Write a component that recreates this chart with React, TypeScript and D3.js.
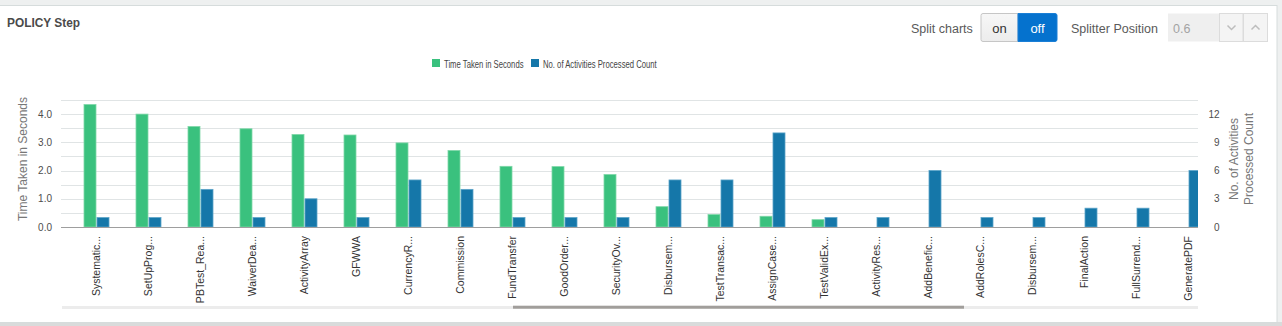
import React from "react";
import * as d3 from "d3";

const categories = [
  "Systematic...", "SetUpProg...", "PBTest_Rea...", "WaiverDea...", "ActivityArray", "GFWWA",
  "CurrencyR...", "Commission", "FundTransfer", "GoodOrder...", "SecurityOv...", "Disbursem...",
  "TestTransac...", "AssignCase...", "TestValidEx...", "ActivityRes...", "AddBenefic...", "AddRolesC...",
  "Disbursem...", "FinalAction", "FullSurrend...", "GeneratePDF",
];
const timeTaken = [4.34, 4.0, 3.56, 3.48, 3.28, 3.26, 2.98, 2.71, 2.15, 2.14, 1.86, 0.72, 0.44, 0.38, 0.26, 0, 0, 0, 0, 0, 0, 0];
const activityCount = [1, 1, 4, 1, 3, 1, 5, 4, 1, 1, 1, 5, 5, 10, 1, 1, 6, 1, 1, 2, 2, 6];
const leftTicks = [0, 1, 2, 3, 4];
const rightTicks = [0, 3, 6, 9, 12];
const seriesNames = ["Time Taken in Seconds", "No. of Activities Processed Count"];
const seriesColors = ["#3ac17e", "#1577a9"];

const W = 1282;
const H = 326;
const plotLeft = 61;
const plotRight = 1198;
const plotTop = 100;
const plotBottom = 227;

export default function App() {
  const idx = categories.map((_, i) => String(i));
  const x = d3.scaleBand<string>().domain(idx).range([70.5, 70.5 + 52 * categories.length]).padding(0);
  const x1 = d3.scaleBand<string>().domain(["a", "b"]).range([13.5, 38.5]).paddingInner(0.077);
  const yL = d3.scaleLinear().domain([0, 4.5]).range([plotBottom, plotTop]);
  const yR = d3.scaleLinear().domain([0, 13.5]).range([plotBottom, plotTop]);
  const grid = d3.range(0, 4.51, 0.5);
  const font = "'Liberation Sans', Arial, sans-serif";

  return (
    <div style={{ position: "absolute", left: 0, top: 0, width: W, height: H }}>
      <svg width={W} height={H} style={{ display: "block", fontFamily: font }}>
        <defs>
          <clipPath id="plotClip">
            <rect x={plotLeft} y={0} width={plotRight - plotLeft} height={plotBottom + 1} />
          </clipPath>
          <linearGradient id="onGrad" x1="0" y1="0" x2="0" y2="1">
            <stop offset="0" stopColor="#f7f7f7" />
            <stop offset="1" stopColor="#ececec" />
          </linearGradient>
        </defs>
        <rect x={0} y={0} width={W} height={H} fill="#eef0f0" />
        <rect x={0} y={322} width={W} height={4} fill="#d9dbdb" />
        <rect x={-1} y={5.5} width={1278} height={317} fill="#ffffff" stroke="#d6dcdc" />

        <text x={7} y={27} fontSize={13} fontWeight="bold" fill="#4a4a4a" textLength={73} lengthAdjust="spacingAndGlyphs">POLICY Step</text>

        {/* controls */}
        <text x={911} y={33} fontSize={12.5} fill="#5a5a5a">Split charts</text>
        <path d="M983,13.5 H1018 V41.5 H983 a2,2 0 0 1 -2,-2 V15.5 a2,2 0 0 1 2,-2 Z" fill="url(#onGrad)" stroke="#c6c6c6" />
        <text x={999.5} y={33} fontSize={13} fill="#333" textAnchor="middle">on</text>
        <path d="M1018,13.5 H1055 a2,2 0 0 1 2,2 V39.5 a2,2 0 0 1 -2,2 H1018 Z" fill="#0572ce" stroke="#1a7fd6" />
        <text x={1037.5} y={33} fontSize={13} fill="#ffffff" textAnchor="middle">off</text>
        <text x={1071} y={33} fontSize={12.5} fill="#5a5a5a">Splitter Position</text>
        <rect x={1168} y={13.5} width={51.5} height={28} fill="#efefef" />
        <text x={1173} y={33} fontSize={12.5} fill="#a3a3a3">0.6</text>
        <rect x={1219.5} y={13.5} width={23.5} height={28} fill="#f4f4f4" stroke="#dcdcdc" />
        <rect x={1243.5} y={13.5} width={24} height={28} fill="#f4f4f4" stroke="#dcdcdc" />
        <path d="M1227.5,25.5 L1231.5,29.5 L1235.5,25.5" fill="none" stroke="#bdbdbd" strokeWidth={1.5} />
        <path d="M1251.5,29.5 L1255.5,25.5 L1259.5,29.5" fill="none" stroke="#bdbdbd" strokeWidth={1.5} />

        {/* legend */}
        <rect x={432} y={59} width={8} height={8} fill={seriesColors[0]} />
        <text transform="translate(444,67.5) scale(0.7,1)" fontSize={11} fill="#444">{seriesNames[0]}</text>
        <rect x={531} y={59} width={8} height={8} fill={seriesColors[1]} />
        <text transform="translate(543,67.5) scale(0.7,1)" fontSize={11} fill="#444">{seriesNames[1]}</text>

        {/* grid */}
        {grid.map((g) => (
          <line key={g} x1={plotLeft} x2={plotRight} y1={Math.round(yL(g)) + 0.5} y2={Math.round(yL(g)) + 0.5}
            stroke={g === 0 ? "#9e9e9e" : "#e0e4e5"} />
        ))}

        {/* bars */}
        <g clipPath="url(#plotClip)">
          {categories.map((_, i) => {
            const gx = x(String(i))!;
            const hG = plotBottom - yL(timeTaken[i]);
            const hB = plotBottom - yR(activityCount[i]);
            return (
              <g key={i}>
                {timeTaken[i] > 0 && (
                  <rect x={gx + x1("a")!} y={yL(timeTaken[i])} width={x1.bandwidth()} height={hG}
                    fill={seriesColors[0]} stroke="#7fd7a8" strokeWidth={0.8} />
                )}
                {activityCount[i] > 0 && (
                  <rect x={gx + x1("b")!} y={yR(activityCount[i])} width={x1.bandwidth()} height={hB}
                    fill={seriesColors[1]} stroke="#5aa3c8" strokeWidth={0.8} />
                )}
              </g>
            );
          })}
        </g>
        <line x1={plotLeft} x2={plotRight} y1={plotBottom + 0.5} y2={plotBottom + 0.5} stroke="#9e9e9e" />

        {/* left axis */}
        {leftTicks.map((t) => (
          <text key={t} x={52} y={yL(t) + 3.5} fontSize={10} fill="#4d4d4d" textAnchor="end">{t.toFixed(1)}</text>
        ))}
        <text transform={`translate(27,159) rotate(-90)`} fontSize={12} fill="#777" textAnchor="middle">Time Taken in Seconds</text>

        {/* right axis */}
        {rightTicks.map((t) => (
          <text key={t} x={1219.5} y={yR(t) + 3.5} fontSize={10} fill="#4d4d4d" textAnchor="end">{t}</text>
        ))}
        <text transform={`translate(1238,159) rotate(-90)`} fontSize={12} fill="#777" textAnchor="middle">No. of Activities</text>
        <text transform={`translate(1253,159) rotate(-90)`} fontSize={12} fill="#777" textAnchor="middle">Processed Count</text>

        {/* x labels */}
        {categories.map((c, i) => (
          <text key={i} transform={`translate(${x(String(i))! + 26 + 3.5},236) rotate(-90)`} fontSize={10.5}
            fill="#333" textAnchor="end">{c}</text>
        ))}

        {/* scrollbar */}
        <rect x={62} y={306} width={plotRight - 62} height={3} fill="#ececec" />
        <rect x={513} y={305.7} width={451} height={3} fill="#a19e9b" />
      </svg>
    </div>
  );
}
